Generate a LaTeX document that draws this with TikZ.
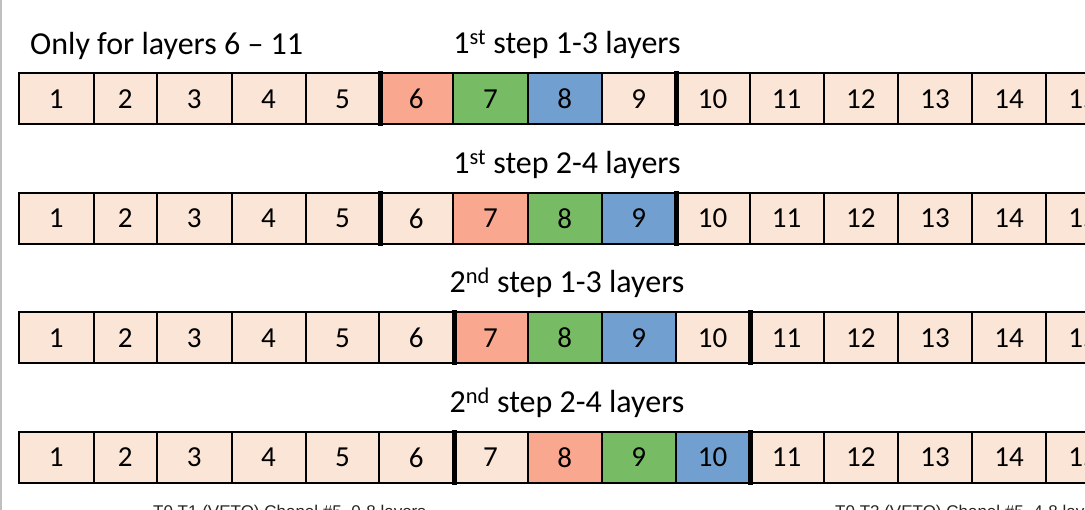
\documentclass[tikz,border=0pt]{standalone}
\usepackage{fontspec}
\setmainfont{Carlito}
\newfontfamily\arialf{Liberation Sans}
\definecolor{peach}{HTML}{FBE5D6}
\definecolor{salmonc}{HTML}{F9A88F}
\definecolor{greenc}{HTML}{78BB65}
\definecolor{bluec}{HTML}{719FD0}
\begin{document}
\begin{tikzpicture}[x=1pt,y=-1pt,
  cell/.style={draw=black,line width=2pt,minimum height=51pt,inner sep=0pt,anchor=west,
    font=\fontsize{29}{34}\selectfont},
  title/.style={inner sep=0pt,font=\fontsize{32}{38}\selectfont},
  note/.style={inner sep=0pt,anchor=north west,text=black!85,font=\arialf\fontsize{17}{20}\selectfont}]
\useasboundingbox (0,0) rectangle (1085,510);
\clip (0,0) rectangle (1085,510);
\draw[black!25,line width=2pt] (1,0) -- (1,510);
\node[title,anchor=base west] (t0) at (30,55) {Only for layers 6 -- 11};
\node[title,anchor=base] (t1) at (567,54) {1\textsuperscript{st} step 1-3 layers};
\node[title,anchor=base] (t2) at (567,173.5) {1\textsuperscript{st} step 2-4 layers};
\node[title,anchor=base] (t3) at (567,293) {2\textsuperscript{nd} step 1-3 layers};
\node[title,anchor=base] (t4) at (567,412.5) {2\textsuperscript{nd} step 2-4 layers};
\foreach \rw/\yc/\ca/\cb/\cc/\ta/\tb in {1/99/6/7/8/5/9, 2/218.5/7/8/9/5/9, 3/338/7/8/9/6/10, 4/457.5/8/9/10/6/10}{
  \foreach \i/\xl/\xr in {1/18/92.5, 2/92.5/156, 3/156/230.5, 4/230.5/304.5, 5/304.5/378.3,
      6/378.3/452.3, 7/452.3/526.5, 8/526.5/600.7, 9/600.7/674.5, 10/674.5/748.5,
      11/748.5/822.7, 12/822.7/897, 13/897/971, 14/971/1045, 15/1045/1119}{
    \def\fc{peach}%
    \ifnum\i=\ca\def\fc{salmonc}\fi
    \ifnum\i=\cb\def\fc{greenc}\fi
    \ifnum\i=\cc\def\fc{bluec}\fi
    \pgfmathsetlengthmacro\w{(\xr-\xl)*1pt}
    \node[cell,fill=\fc,minimum width=\w] (c\rw-\i) at (\xl,\yc) {\i};
  }
  \fill[black] ([xshift=-2.5pt,yshift=1pt]c\rw-\ta.north east) rectangle ([xshift=2.5pt,yshift=-1pt]c\rw-\ta.south east);
  \fill[black] ([xshift=-2.5pt,yshift=1pt]c\rw-\tb.north east) rectangle ([xshift=2.5pt,yshift=-1pt]c\rw-\tb.south east);
}
\node[note] (n1) at (153,505) {T0 T1 (VETO) Chanel \#5, 0-8 layers};
\node[note] (n2) at (835,505) {T0 T2 (VETO) Chanel \#5, 4-8 layers};
\end{tikzpicture}
\end{document}
